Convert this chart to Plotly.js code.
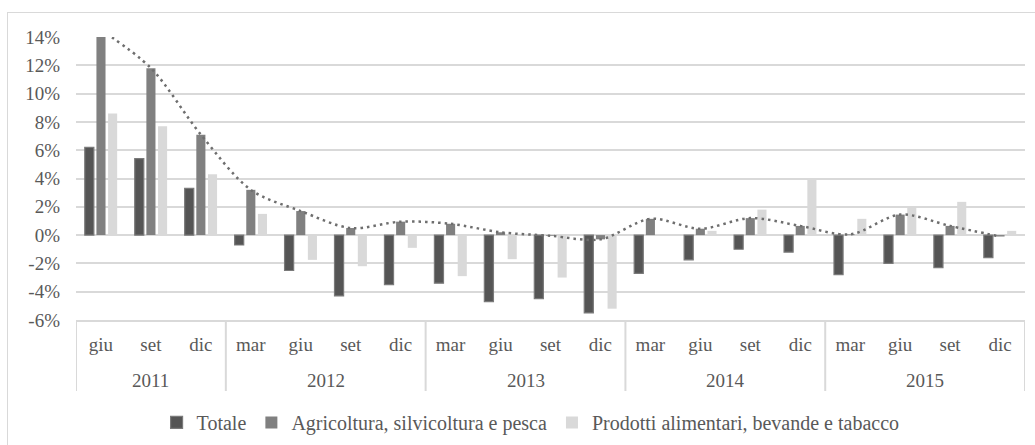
<!DOCTYPE html>
<html>
<head>
<meta charset="utf-8">
<script src="https://cdn.plot.ly/plotly-3.0.1.min.js"></script>
<style>
  html, body { margin: 0; padding: 0; background: #ffffff; }
  #wrap { position: relative; width: 1035px; height: 445px; overflow: hidden; }
  #chart { position: absolute; left: 0; top: 0; width: 1035px; height: 445px; }
  #frame {
    position: absolute; left: 7px; top: 12px; width: 1100px; height: 500px;
    border-left: 1px solid #d9d9d9; border-top: 1px solid #d9d9d9;
    pointer-events: none; z-index: 5;
  }
</style>
</head>
<body>
<div id="wrap">
  <div id="chart"></div>
  <div id="frame"></div>
</div>
<script>
// Periods: year groups and the quarter-end months shown under each year
const years = ['2011', '2012', '2013', '2014', '2015'];
const monthsByYear = [
  ['giu', 'set', 'dic'],
  ['mar', 'giu', 'set', 'dic'],
  ['mar', 'giu', 'set', 'dic'],
  ['mar', 'giu', 'set', 'dic'],
  ['mar', 'giu', 'set', 'dic']
];

// Year-on-year changes (%)
const totale = [6.2, 5.4, 3.3, -0.7, -2.5, -4.3, -3.5, -3.4, -4.7, -4.5, -5.5,
                -2.7, -1.75, -1.0, -1.2, -2.8, -2.0, -2.3, -1.6];
const agricoltura = [14.5, 11.8, 7.1, 3.2, 1.7, 0.5, 0.95, 0.8, 0.2, -0.05, -0.3,
                     1.15, 0.45, 1.2, 0.65, 0.05, 1.45, 0.65, -0.1];
const prodotti = [8.6, 7.7, 4.3, 1.5, -1.75, -2.2, -0.9, -2.9, -1.7, -3.0, -5.2,
                  0.0, 0.3, 1.8, 3.9, 1.15, 1.95, 2.35, 0.3];

const seriesNames = ['Totale', 'Agricoltura, silvicoltura e pesca', 'Prodotti alimentari, bevande e tabacco'];

const yTickVals = [-6, -4, -2, 0, 2, 4, 6, 8, 10, 12, 14];
const yTickText = yTickVals.map(v => v + '%');

// Flatten the periods into one category sequence along the x axis
const monthLabels = [];
const groupStart = [];
years.forEach((y, i) => {
  groupStart.push(monthLabels.length);
  monthsByYear[i].forEach(m => monthLabels.push(m));
});
const xPos = monthLabels.map((_, i) => i);

const serif = 'Liberation Serif, Times New Roman, serif';
const textColor = '#595959';
const gridColor = '#d9d9d9';

// plot box: 283 px tall; secondary label row and dividers sit below it
const plotHeight = 445 - 37 - 125;
const yearRowY = -60 / plotHeight;
const dividerEndY = -71 / plotHeight;

const traces = [
  {
    type: 'bar', name: seriesNames[0], x: xPos, y: totale,
    marker: { color: '#555555', line: { color: '#7a7a7a', width: 1.2 } },
    hoverinfo: 'skip'
  },
  {
    type: 'bar', name: seriesNames[1], x: xPos, y: agricoltura,
    marker: { color: '#808080', line: { width: 0 } },
    hoverinfo: 'skip'
  },
  {
    type: 'bar', name: seriesNames[2], x: xPos, y: prodotti,
    marker: { color: '#d9d9d9', line: { width: 0 } },
    hoverinfo: 'skip'
  },
  {
    // smoothed dotted profile of the agriculture series
    type: 'scatter', mode: 'lines', x: xPos, y: agricoltura,
    line: { color: '#6e6e6e', width: 2.5, dash: '2.5px,4px', shape: 'spline', smoothing: 0.9 },
    showlegend: false, hoverinfo: 'skip'
  }
];

// Year labels centred under their months
const yearAnnotations = years.map((y, i) => {
  const first = groupStart[i];
  const last = first + monthsByYear[i].length - 1;
  return {
    x: (first + last) / 2, y: yearRowY, xref: 'x', yref: 'paper',
    text: y, showarrow: false, xanchor: 'center', yanchor: 'middle',
    font: { family: serif, size: 19, color: textColor }
  };
});

// Vertical dividers between year groups (and at both ends)
const dividerXs = groupStart.map(s => s - 0.5).concat([monthLabels.length - 0.5]);
const dividers = dividerXs.map(xv => ({
  type: 'line', xref: 'x', yref: 'paper',
  x0: xv, x1: xv, y0: 0, y1: dividerEndY,
  line: { color: gridColor, width: 2 }
}));

const layout = {
  width: 1035,
  height: 445,
  margin: { l: 76, r: 10, t: 37, b: 125, pad: 0, autoexpand: false },
  paper_bgcolor: 'rgba(0,0,0,0)',
  plot_bgcolor: '#ffffff',
  font: { family: serif, color: textColor, size: 19 },
  barmode: 'group',
  bargap: 0.3,
  bargroupgap: 0.22,
  showlegend: true,
  legend: {
    orientation: 'h',
    x: 0.479, xanchor: 'center',
    y: -0.362, yanchor: 'middle',
    font: { family: serif, size: 20, color: textColor },
    itemwidth: 30,
    traceorder: 'normal',
    bgcolor: 'rgba(0,0,0,0)'
  },
  xaxis: {
    type: 'linear',
    range: [-0.5, monthLabels.length - 0.5],
    tickvals: xPos,
    ticktext: monthLabels,
    tickfont: { family: serif, size: 19, color: textColor },
    ticks: '',
    ticklabelstandoff: 6,
    showline: true, linecolor: gridColor, linewidth: 2,
    showgrid: false, zeroline: false,
    fixedrange: true
  },
  yaxis: {
    range: [-6, 14],
    tickvals: yTickVals,
    ticktext: yTickText,
    tickfont: { family: serif, size: 19, color: textColor },
    showgrid: true, gridcolor: gridColor, gridwidth: 2,
    zeroline: true, zerolinecolor: gridColor, zerolinewidth: 2,
    showline: false,
    ticks: '',
    ticklabelstandoff: 15,
    fixedrange: true
  },
  annotations: yearAnnotations,
  shapes: dividers
};

Plotly.newPlot('chart', traces, layout, { staticPlot: true, displayModeBar: false });
</script>
</body>
</html>
